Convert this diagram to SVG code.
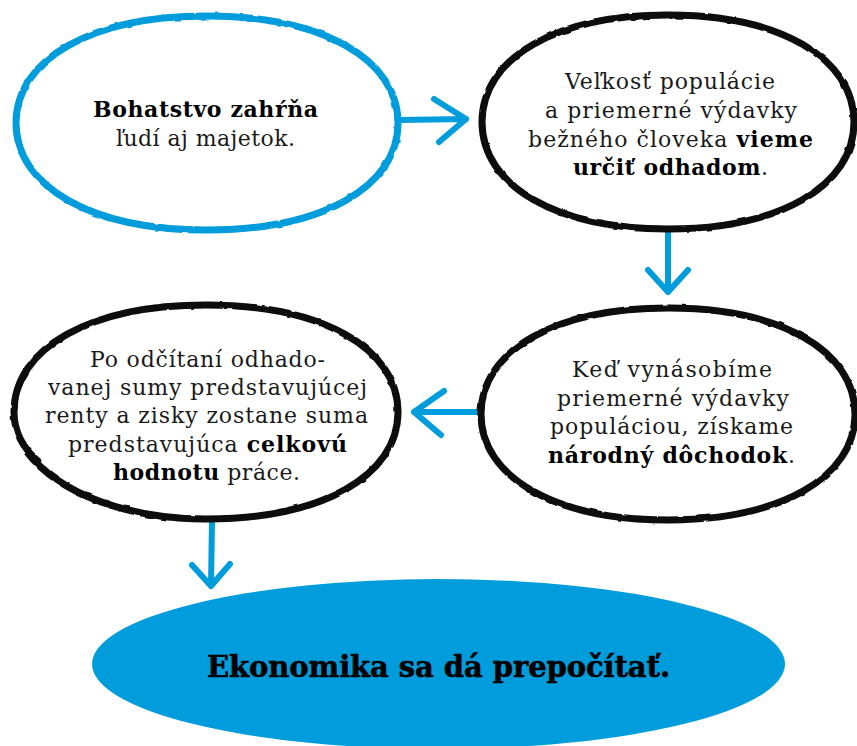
<svg xmlns="http://www.w3.org/2000/svg" width="857" height="746" viewBox="0 0 857 746">
<style>
.t{font-family:"DejaVu Serif","Liberation Serif",serif;font-size:22px;fill:#1a1a1a;text-anchor:middle}
.b{font-weight:bold;fill:#000}
.ob{fill:#fff;stroke:#009cdc;stroke-width:7}
.ok{fill:#fff;stroke:#0a0a0a;stroke-width:7}
.ar{fill:none;stroke:#009cdc;stroke-width:6;stroke-linecap:round;stroke-linejoin:round}
.fin{font-family:"DejaVu Serif","Liberation Serif",serif;font-size:29px;font-weight:bold;fill:#000;stroke:#000;stroke-width:0.6;text-anchor:middle}
</style>
<defs>
<filter id="rough" x="-5%" y="-5%" width="110%" height="110%">
<feTurbulence type="fractalNoise" baseFrequency="0.08" numOctaves="2" seed="3" result="n"/>
<feDisplacementMap in="SourceGraphic" in2="n" scale="2.5" xChannelSelector="R" yChannelSelector="G"/>
</filter>
</defs>
<rect width="857" height="746" fill="#fff"/>
<g id="connectors">
<path class="ar" d="M398 120 L466 119 M434 99 L466 119 L439 142"/>
<path class="ar" d="M668 232 L668 292 M648 270 L668 292 L688 270"/>
<path class="ar" d="M478 412 L414 412 M444 391 L414 412 L441 435"/>
<path class="ar" d="M212 520 L211 586 M192 565 L211 586 L230 564"/>
</g>
<g id="n1">
<path class="ob" filter="url(#rough)" d="M16 123 C16 58.8 92.4 16 207 16 C321.6 16 398 58.8 398 123 C398 187.2 321.6 230 207 230 C92.4 230 16 187.2 16 123 Z"/>
<text class="t" x="205.5" y="117" textLength="225" lengthAdjust="spacing"><tspan class="b">Bohatstvo zahŕňa</tspan></text>
<text class="t" x="205.5" y="146" textLength="179" lengthAdjust="spacing">ľudí aj majetok.</text>
</g>
<g id="n2">
<path class="ok" filter="url(#rough)" d="M482 122 C482 57.8 556.4 15 668 15 C779.6 15 854 57.8 854 122 C854 186.2 779.6 229 668 229 C556.4 229 482 186.2 482 122 Z"/>
<text class="t" x="670" y="89" textLength="210" lengthAdjust="spacing">Veľkosť populácie</text>
<text class="t" x="671" y="118" textLength="252" lengthAdjust="spacing">a priemerné výdavky</text>
<text class="t" x="670.5" y="147" textLength="285" lengthAdjust="spacing">bežného človeka <tspan class="b">vieme</tspan></text>
<text class="t" x="670.5" y="175" textLength="195" lengthAdjust="spacing"><tspan class="b">určiť odhadom</tspan>.</text>
</g>
<g id="n3">
<path class="ok" filter="url(#rough)" d="M481 414 C481 350.4 555.8 308 668 308 C780.2 308 855 350.4 855 414 C855 477.6 780.2 520 668 520 C555.8 520 481 477.6 481 414 Z"/>
<text class="t" x="672" y="377" textLength="200" lengthAdjust="spacing">Keď vynásobíme</text>
<text class="t" x="673" y="405.5" textLength="232" lengthAdjust="spacing">priemerné výdavky</text>
<text class="t" x="671.5" y="434" textLength="243" lengthAdjust="spacing">populáciou, získame</text>
<text class="t" x="671.5" y="462.5" textLength="247" lengthAdjust="spacing"><tspan class="b">národný dôchodok</tspan>.</text>
</g>
<g id="n4">
<path class="ok" filter="url(#rough)" d="M27 452 C60 495 130 519 206 519 C321.2 519 398 476.2 398 412 C398 347.8 321.2 305 206 305 C90.8 305 14 347.8 14 412 C14 432 22 448 40 463"/>
<text class="t" x="207.5" y="367" textLength="235" lengthAdjust="spacing">Po odčítaní odhado-</text>
<text class="t" x="207.5" y="395" textLength="319" lengthAdjust="spacing">vanej sumy predstavujúcej</text>
<text class="t" x="206.5" y="423" textLength="323" lengthAdjust="spacing">renty a zisky zostane suma</text>
<text class="t" x="207.5" y="452" textLength="279" lengthAdjust="spacing">predstavujúca <tspan class="b">celkovú</tspan></text>
<text class="t" x="206.5" y="480" textLength="187" lengthAdjust="spacing"><tspan class="b">hodnotu</tspan> práce.</text>
</g>
<g id="n5">
<ellipse cx="438.5" cy="664" rx="346.5" ry="85" fill="#009cdc"/>
<text class="fin" x="438.5" y="677" textLength="463" lengthAdjust="spacing">Ekonomika sa dá prepočítať.</text>
</g>
</svg>
